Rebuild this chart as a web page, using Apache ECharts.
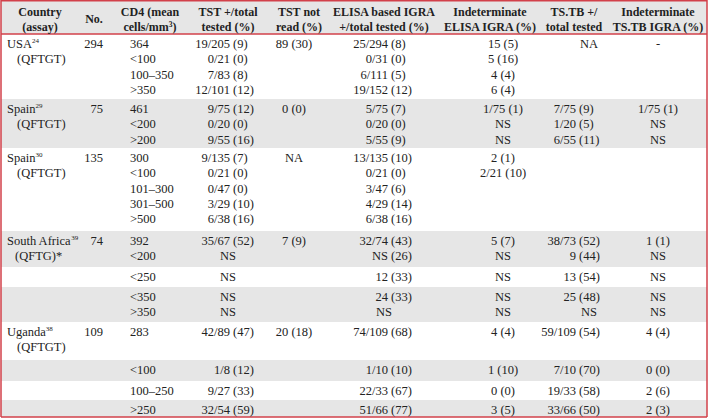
<!DOCTYPE html>
<html><head><meta charset="utf-8">
<script src="https://cdn.jsdelivr.net/npm/echarts@6/dist/echarts.min.js"></script>
<style>html,body{margin:0;padding:0;background:#fff}#c{width:709px;height:420px}</style>
</head><body><div id="c"></div>
<script>
// ---------- DATA ----------
const headerLines = [
  ['Country', '(assay)'],
  ['No.'],
  ['CD4 (mean', 'cells/mm{supb|3})'],
  ['TST +/total', 'tested (%)'],
  ['TST not', 'read (%)'],
  ['ELISA based IGRA', '+/total tested (%)'],
  ['Indeterminate', 'ELISA IGRA (%)'],
  ['TS.TB +/', 'total tested'],
  ['Indeterminate', 'TS.TB IGRA (%)']
];
const countryNames  = ['USA', 'Spain', 'Spain', 'South Africa', 'Uganda'];
const countryRefs   = ['24', '29', '30', '39', '38'];
const countryAssays = ['(QFTGT)', '(QFTGT)', '(QFTGT)', '(QFTG)*', '(QFTGT)'];
const countryTotals = ['294', '75', '135', '74', '109'];
const countryBand   = [0, 1, 2, 3, 6];

const cd4 = [['364','<100','100–350','>350'], ['461','<200','>200'], ['300','<100','101–300','301–500','>500'],
  ['392','<200'], ['<250'], ['<350','>350'], ['283'], ['<100'], ['100–250'], ['>250']];
const tstPositive = [['19/205 (9)','0/21 (0)','7/83 (8)','12/101 (12)'], ['9/75 (12)','0/20 (0)','9/55 (16)'],
  ['9/135 (7)','0/21 (0)','0/47 (0)','3/29 (10)','6/38 (16)'], ['35/67 (52)','NS'], ['NS'], ['NS','NS'],
  ['42/89 (47)'], ['1/8 (12)'], ['9/27 (33)'], ['32/54 (59)']];
const tstNotRead = [['89 (30)'], ['0 (0)'], ['NA'], ['7 (9)'], [], [], ['20 (18)'], [], [], []];
const elisaPositive = [['25/294 (8)','0/31 (0)','6/111 (5)','19/152 (12)'], ['5/75 (7)','0/20 (0)','5/55 (9)'],
  ['13/135 (10)','0/21 (0)','3/47 (6)','4/29 (14)','6/38 (16)'], ['32/74 (43)','NS (26)'], ['12 (33)'],
  ['24 (33)','NS'], ['74/109 (68)'], ['1/10 (10)'], ['22/33 (67)'], ['51/66 (77)']];
const elisaIndeterminate = [['15 (5)','5 (16)','4 (4)','6 (4)'], ['1/75 (1)','NS','NS'], ['2 (1)','2/21 (10)'],
  ['5 (7)','NS'], ['NS'], ['NS','NS'], ['4 (4)'], ['1 (10)'], ['0 (0)'], ['3 (5)']];
const tstbPositive = [['NA'], ['7/75 (9)','1/20 (5)','6/55 (11)'], [], ['38/73 (52)','9 (44)'], ['13 (54)'],
  ['25 (48)','NS'], ['59/109 (54)'], ['7/10 (70)'], ['19/33 (58)'], ['33/66 (50)']];
const tstbIndeterminate = [['-'], ['1/75 (1)','NS','NS'], [], ['1 (1)','NS'], ['NS'], ['NS','NS'],
  ['4 (4)'], ['0 (0)'], ['2 (6)'], ['2 (3)']];

// ---------- LAYOUT ----------
const W = 709, H = 420;
const headerH = 34;
const bandH = [65, 49, 83, 36, 20, 35, 38, 21, 19, 17];
const bandShaded = [false, true, false, true, false, true, false, true, false, true];
const firstLine = 10, pitch = 15.3;
const headerCenters = [40, 94, 150, 228, 299, 384, 490, 574, 658];
const bodyCols = [
  {data: cd4, mode: 'left', x: 130},
  {data: tstPositive, mode: 'paren', x: 233, bare: 228},
  {data: tstNotRead, mode: 'center', x: 294},
  {data: elisaPositive, mode: 'paren', x: 391, bare: 384},
  {data: elisaIndeterminate, mode: 'center', x: 503},
  {data: tstbPositive, mode: 'paren', x: 579, bare: 589},
  {data: tstbIndeterminate, mode: 'center', x: 658}
];
const RED = '#d2404a', GRAY = '#e6e6e6', INK = '#222';
const FONT = '"Liberation Serif", "DejaVu Serif", serif';
const BODY_SIZE = 12.5, HEAD_SIZE = 12;

const bandTop = [];
let acc = headerH;
bandH.forEach(h => { bandTop.push(acc); acc += h; });
const tableBottom = acc;

// rectangles
const rects = [];
rects.push({d: [1, 0, 707, headerH], fill: GRAY});
bandH.forEach((h, i) => { if (bandShaded[i]) rects.push({d: [1, bandTop[i], 707, bandTop[i] + h], fill: GRAY}); });

// texts
const texts = [];
function addText(x, y, text, align, bold) { texts.push({d: [x, y], text, align, bold}); }
headerLines.forEach((lines, c) => {
  if (lines.length === 1) addText(headerCenters[c], 19, lines[0], 'center', true);
  else lines.forEach((t, k) => addText(headerCenters[c], 12 + k * 15, t, 'center', true));
});
countryNames.forEach((name, i) => {
  const b = countryBand[i];
  const y0 = bandTop[b] + firstLine;
  addText(7, y0, name + '{sup|' + countryRefs[i] + '}', 'left', false);
  addText(i === 3 ? 15 : 17, y0 + pitch, countryAssays[i], 'left', false);
  addText(103, y0, countryTotals[i], 'right', false);
});
bodyCols.forEach(col => {
  col.data.forEach((lines, b) => {
    lines.forEach((t, k) => {
      const y = bandTop[b] + firstLine + k * pitch;
      if (col.mode === 'left') addText(col.x, y, t, 'left', false);
      else if (col.mode === 'center') addText(col.x, y, t, 'center', false);
      else {
        const m = t.match(/^(.*\S)\s+(\(.*\))$/);
        if (m) { addText(col.x - 3, y, m[1], 'right', false); addText(col.x, y, m[2], 'left', false); }
        else addText(col.bare, y, t, 'center', false);
      }
    });
  });
});

// lines
const lines = [
  [1, 0.75, 707, 0.75], [1, headerH, 707, headerH], [1, tableBottom, 707, tableBottom],
  [1, 0, 1, tableBottom], [707, 0, 707, tableBottom]
];

const chart = echarts.init(document.getElementById('c'), null, {renderer: 'svg'});
chart.setOption({
  animation: false,
  backgroundColor: '#fff',
  grid: {left: 0, right: 0, top: 0, bottom: 0},
  xAxis: {type: 'value', min: 0, max: W, show: false},
  yAxis: {type: 'value', min: 0, max: H, inverse: true, show: false},
  series: [
    {
      type: 'custom', clip: false, silent: true, z: 1,
      data: rects.map(r => r.d),
      renderItem(params, api) {
        const p0 = api.coord([api.value(0), api.value(1)]);
        const p1 = api.coord([api.value(2), api.value(3)]);
        return {type: 'rect', shape: {x: p0[0], y: p0[1], width: p1[0] - p0[0], height: p1[1] - p0[1]},
          style: {fill: rects[params.dataIndex].fill}};
      }
    },
    {
      type: 'custom', clip: false, silent: true, z: 2,
      data: lines,
      renderItem(params, api) {
        const p0 = api.coord([api.value(0), api.value(1)]);
        const p1 = api.coord([api.value(2), api.value(3)]);
        return {type: 'line', shape: {x1: p0[0], y1: p0[1], x2: p1[0], y2: p1[1]},
          style: {stroke: RED, lineWidth: 1.5}};
      }
    },
    {
      type: 'custom', clip: false, silent: true, z: 3,
      data: texts.map(t => t.d),
      renderItem(params, api) {
        const t = texts[params.dataIndex];
        const p = api.coord([api.value(0), api.value(1)]);
        return {type: 'text', x: p[0], y: p[1],
          style: {text: t.text, fill: INK, fontSize: t.bold ? HEAD_SIZE : BODY_SIZE, fontFamily: FONT,
            fontWeight: t.bold ? 'bold' : 'normal',
            align: t.align, verticalAlign: 'middle', lineHeight: 14,
            rich: {
              sup: {fontSize: 7, fontFamily: FONT, fill: INK, verticalAlign: 'top', lineHeight: 8},
              supb: {fontSize: 7.5, fontFamily: FONT, fontWeight: 'bold', fill: INK, verticalAlign: 'top', lineHeight: 8}
            }}};
      }
    }
  ]
});
</script></body></html>
